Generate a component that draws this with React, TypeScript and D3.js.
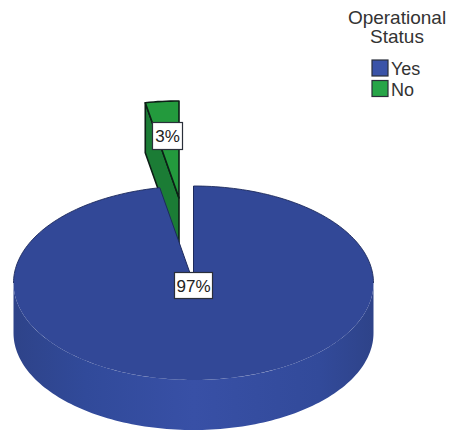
import React from "react";
import * as d3 from "d3";

const categories = ["Yes", "No"];
const shares = [97, 3];
const legendTitle = ["Operational", "Status"];

const WIDTH = 451;
const HEIGHT = 431;
const RX = 180;
const RY = 97;
const DEPTH = 50;
const CENTER = { x: 193.5, y: 283 };
const EXPLODE = [
  { x: 0, y: 0 },
  { x: -14.5, y: -85 },
];
const FONT = "'Liberation Sans', Arial, sans-serif";
const TOP_FILL = ["#324897", "#239a3d"];
const SIDE_FILL = ["url(#wall)", "#1b7c35"];
const SWATCH = ["#3a53a8", "#27a548"];
const OUTLINE = "#0c1f16";

// Projects a clockwise-from-north pie angle onto the tilted ellipse.
const rim = (a: number, lift = 0): [number, number] => [
  RX * Math.sin(a),
  -RY * Math.cos(a) + lift,
];

const pieLayout = d3
  .pie<number>()
  .sort(null)
  .startAngle(0)
  .endAngle(2 * Math.PI);
const slices = pieLayout(shares);
const line = d3.line();

function arcPoints(from: number, to: number) {
  const n = Math.max(8, Math.ceil(Math.abs(to - from) * 40));
  const angle = d3.scaleLinear().domain([0, n]).range([from, to]);
  return d3.range(n + 1).map((i) => rim(angle(i)));
}

function topPath(s: d3.PieArcDatum<number>) {
  return line([[0, 0], ...arcPoints(s.startAngle, s.endAngle)]) + "Z";
}

// Outer wall of the large slice: the front half of the rim, pushed down by the depth.
function frontWall() {
  const upper = arcPoints(Math.PI / 2, (3 * Math.PI) / 2);
  const lower = [...upper].reverse().map(([x, y]) => [x, y + DEPTH] as [number, number]);
  return line([...upper, ...lower]) + "Z";
}

// Cut face of the small slice, seen on its left radius.
function cutFace(s: d3.PieArcDatum<number>) {
  const edge = rim(s.startAngle);
  return line([
    [0, 0],
    edge,
    [edge[0], edge[1] + DEPTH],
    [0, DEPTH],
  ]) + "Z";
}

function ValueLabel({ x, y, w, h, text }: { x: number; y: number; w: number; h: number; text: string }) {
  return (
    <g>
      <rect x={x} y={y} width={w} height={h} fill="#fff" stroke="#2a2f3a" strokeWidth={1.2} />
      <text
        x={x + w / 2}
        y={y + h / 2 + 6}
        textAnchor="middle"
        fontFamily={FONT}
        fontSize={17}
        fill="#222"
      >
        {text}
      </text>
    </g>
  );
}

export default function App() {
  const [yes, no] = slices;
  return (
    <svg
      width={WIDTH}
      height={HEIGHT}
      viewBox={`0 0 ${WIDTH} ${HEIGHT}`}
      style={{ position: "absolute", left: 0, top: 0, background: "#fff" }}
    >
      <defs>
        <linearGradient id="wall" x1="0" x2="1" y1="0" y2="0">
          <stop offset="0" stopColor="#2e4389" />
          <stop offset="0.2" stopColor="#314a9a" />
          <stop offset="0.5" stopColor="#3850a6" />
          <stop offset="0.85" stopColor="#324a9a" />
          <stop offset="1" stopColor="#2e4389" />
        </linearGradient>
      </defs>

      {/* detached small slice sits behind the main body */}
      <g transform={`translate(${CENTER.x + EXPLODE[1].x},${CENTER.y + EXPLODE[1].y})`}>
        <path d={cutFace(no)} fill={SIDE_FILL[1]} stroke={OUTLINE} strokeWidth={1.6} strokeLinejoin="round" />
        <path d={topPath(no)} fill={TOP_FILL[1]} stroke={OUTLINE} strokeWidth={1.6} strokeLinejoin="round" />
      </g>

      <g transform={`translate(${CENTER.x + EXPLODE[0].x},${CENTER.y + EXPLODE[0].y})`}>
        <path d={frontWall()} fill={SIDE_FILL[0]} />
        <path d={topPath(yes)} fill={TOP_FILL[0]} />
        {/* only the far half of the rim and the cut radii carry an outline */}
        <path
          d={line(arcPoints(yes.startAngle, Math.PI / 2)) as string}
          fill="none"
          stroke="#1d2a5c"
          strokeWidth={0.9}
        />
        <path
          d={line(arcPoints((3 * Math.PI) / 2, yes.endAngle)) as string}
          fill="none"
          stroke="#1d2a5c"
          strokeWidth={0.9}
        />
        <path
          d={line([rim(yes.startAngle), [0, 0], rim(yes.endAngle)]) as string}
          fill="none"
          stroke="#1d2a5c"
          strokeWidth={1}
        />
      </g>

      <ValueLabel x={174.5} y={272.5} w={38} h={26} text={`${shares[0]}%`} />
      <ValueLabel x={152.5} y={122.5} w={30} h={27} text={`${shares[1]}%`} />

      {legendTitle.map((t, i) => (
        <text
          key={t}
          x={397}
          y={23.5 + i * 19.5}
          textAnchor="middle"
          fontFamily={FONT}
          fontSize={19}
          fill="#333"
        >
          {t}
        </text>
      ))}
      {categories.map((c, i) => (
        <g key={c} transform={`translate(372,${60 + i * 20.5})`}>
          <rect width={16} height={16} fill={SWATCH[i]} stroke="#2a2f3a" strokeWidth={1.2} />
          <text x={19} y={15} fontFamily={FONT} fontSize={18} fill="#333">
            {c}
          </text>
        </g>
      ))}
    </svg>
  );
}
